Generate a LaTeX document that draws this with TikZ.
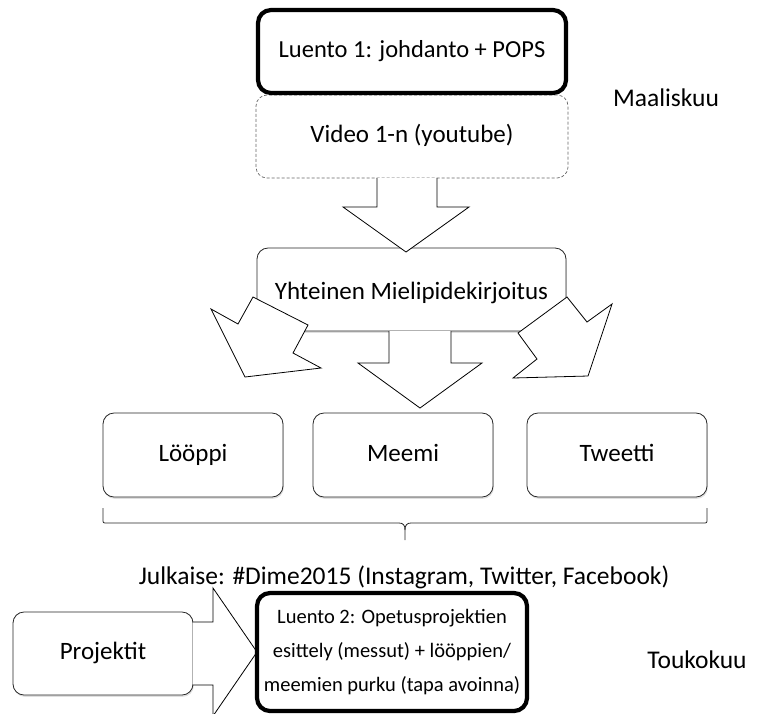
\documentclass[tikz,border=0pt]{standalone}
\usepackage{fontspec}
\setmainfont{Carlito}
\usetikzlibrary{shadows}
\begin{document}
\begin{tikzpicture}[x=1pt,y=-1pt,
  box/.style={draw=black!85, rounded corners=11pt, fill=white, line width=0.8pt, align=center,
    inner sep=0pt, font=\fontsize{25}{30}\selectfont, text height=17pt, text depth=5pt,
    drop shadow={shadow xshift=0.8pt, shadow yshift=-1.8pt, opacity=0.25, fill=gray}},
  thickbox/.style={draw, rounded corners=13pt, fill=white, line width=4.2pt, align=center,
    inner sep=0pt},
  dashbox/.style={draw=gray!80!black, dash pattern=on 3pt off 2pt, rounded corners=11pt, fill=white,
    line width=0.7pt, align=center, inner sep=0pt, font=\fontsize{25}{30}\selectfont,
    text height=17pt, text depth=5pt},
  blockarrow/.style={draw, fill=white, line width=0.8pt, line join=miter},
  lbl/.style={font=\fontsize{25.5}{30}\selectfont, inner sep=0pt}
]
\useasboundingbox (0,0) rectangle (759,713);

% top boxes
\node[dashbox, minimum width=312pt, minimum height=83pt] (video) at (412,136.5) {Video 1-n (youtube)};
\node[thickbox, minimum width=308pt, minimum height=83pt, font=\fontsize{24.5}{30}\selectfont,
  text height=17pt, text depth=5pt] (luento1) at (412,51.5) {Luento 1: johdanto + POPS};
\node[lbl] (maalis) at (666,98) {Maaliskuu};

% middle box
\node[box, minimum width=309pt, minimum height=83pt] (yht) at (411.5,289.5) {\raisebox{-4pt}{Yhteinen Mielipidekirjoitus}};

% arrow video -> yhteinen
\draw[blockarrow] (377,178) -- (377,207) -- (343,207) -- (406,252) -- (469,207) -- (437,207) -- (437,178);

% three output boxes
\node[box, minimum width=180pt, minimum height=84pt] (loop) at (193,455) {Lööppi};
\node[box, minimum width=180pt, minimum height=84pt] (meemi) at (403,455) {Meemi};
\node[box, minimum width=180pt, minimum height=84pt] (tweet) at (617,455) {Tweetti};

% arrows from yhteinen
\draw[blockarrow] (253,297) -- (238,324) -- (211,309) -- (245,377) -- (321,368) -- (293,353) -- (308,325) -- cycle;
\draw[blockarrow] (567,297) -- (518,333) -- (537,359) -- (513,378) -- (588,376) -- (612,304) -- (587,322) -- cycle;
\draw[blockarrow] (389,331) -- (389,363) -- (358,363) -- (420,408) -- (482,363) -- (451,363) -- (451,331);

% brace
\coordinate (bl) at (103,508);
\coordinate (br) at (707,508);
\coordinate (btip) at (405,540);
\draw[line width=0.8pt, black!85] (bl) -- (103,519) .. controls (103,523) .. (107,523) -- (399,523)
  .. controls (403,523) and (405,525) .. (405,530) -- (btip);
\draw[line width=0.8pt, black!85] (br) -- (707,519) .. controls (707,523) .. (703,523) -- (411,523)
  .. controls (407,523) and (405,525) .. (405,530);
\node[lbl] (julk) at (404,577) {Julkaise: \#Dime2015 (Instagram, Twitter, Facebook)};

% bottom row
\node[box, minimum width=180pt, minimum height=83pt] (proj) at (103,653.5) {Projektit};
\draw[blockarrow] (193,622) -- (213,622) -- (213,588) -- (257,652) -- (213,716) -- (213,685) -- (193,685);
\node[thickbox, minimum width=270pt, minimum height=118pt, font=\fontsize{20.5}{34}\selectfont] (luento2) at (392,652)
  {Luento 2: Opetusprojektien\\esittely (messut) + lööppien/\\meemien purku (tapa avoinna)};
\node[lbl] (touko) at (697,660) {Toukokuu};
\end{tikzpicture}
\end{document}
